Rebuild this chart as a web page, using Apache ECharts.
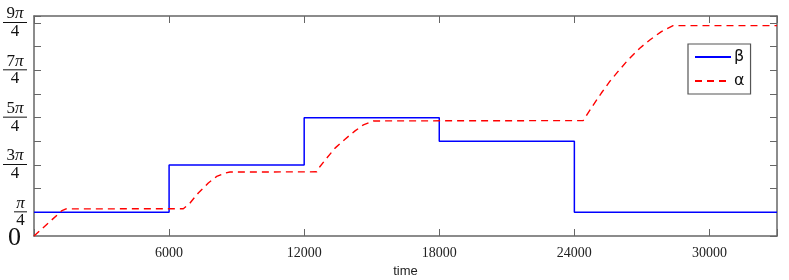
<!DOCTYPE html>
<html>
<head>
<meta charset="utf-8">
<script src="https://cdn.jsdelivr.net/npm/echarts@6/dist/echarts.min.js"></script>
<style>
html,body{margin:0;padding:0;background:#fff;}
#chart{width:789px;height:280px;}
</style>
</head>
<body>
<div id="chart"></div>
<script>
// ---- data ----
var betaTimes  = [0, 6000, 12000, 18000, 24000, 33000];
var betaValues = [0.7854, 2.3562, 3.9270, 3.1416, 0.7854, 0.7854];

var alphaTimes  = [0, 1244, 1421, 6632, 6930, 7298, 7742, 8116, 8484, 8706,
                   12558, 12704, 13002, 13370, 13815, 14259, 14628, 15072,
                   24390, 24831, 25200, 25573, 25942, 26386, 26905, 27350, 27865, 28385, 33000];
var alphaValues = [0, 0.843, 0.899, 0.905, 1.097, 1.428, 1.759, 1.977, 2.089, 2.122,
                   2.13, 2.307, 2.585, 2.916, 3.213, 3.487, 3.686, 3.818,
                   3.83, 4.337, 4.744, 5.130, 5.461, 5.844, 6.231, 6.505, 6.783, 6.981, 6.98];

var seriesNames = ['β', 'α'];
var xTickLabels = [6000, 12000, 18000, 24000, 30000];

function zip(a, b) { return a.map(function (v, i) { return [v, b[i]]; }); }

var Q = Math.PI / 4;
var axisColor = '#666';

var chart = echarts.init(document.getElementById('chart'), null, {renderer: 'canvas'});
chart.setOption({
  animation: false,
  backgroundColor: '#fff',
  grid: {left: 34, right: 12, top: 16, bottom: 44, containLabel: false, outerBoundsMode: 'none'},
  legend: {
    orient: 'vertical',
    left: 688, top: 44,
    padding: [5, 6, 5, 6],
    itemWidth: 36, itemHeight: 14, itemGap: 8,
    backgroundColor: '#fff',
    borderColor: '#555', borderWidth: 1.2, borderRadius: 0,
    itemStyle: {opacity: 0},
    textStyle: {fontFamily: 'DejaVu Sans', fontSize: 16, color: '#111', padding: [0,0,0,-2]},
    data: seriesNames
  },
  xAxis: [{
    type: 'value', min: 0, max: 33000, interval: 6000,
    position: 'bottom',
    name: 'time', nameLocation: 'middle', nameGap: 25,
    nameTextStyle: {fontFamily: 'Liberation Sans', fontSize: 13, color: '#222'},
    axisLine: {show: true, onZero: false, lineStyle: {color: axisColor, width: 1.5}},
    axisTick: {show: true, inside: true, length: 7, lineStyle: {color: axisColor}},
    splitLine: {show: false},
    axisLabel: {
      margin: 10, fontFamily: 'Liberation Serif', fontSize: 14, color: '#222', hideOverlap: false,
      formatter: function (v) { return xTickLabels.indexOf(v) >= 0 ? String(v) : ''; }
    }
  }, {
    type: 'value', min: 0, max: 33000, interval: 6000,
    position: 'top',
    axisLine: {show: true, onZero: false, lineStyle: {color: axisColor, width: 1.5}},
    axisTick: {show: true, inside: true, length: 7, lineStyle: {color: axisColor}},
    splitLine: {show: false},
    axisLabel: {show: false}
  }],
  yAxis: [{
    type: 'value', min: 0, max: 7.3, interval: Q,
    position: 'left',
    axisLine: {show: true, onZero: false, lineStyle: {color: axisColor, width: 1.5}},
    axisTick: {show: true, inside: true, length: 7, lineStyle: {color: axisColor}},
    splitLine: {show: false},
    axisLabel: {
      margin: 7, color: '#111', showMinLabel: false, showMaxLabel: true, hideOverlap: false,
      formatter: function (v) {
        var k = Math.round(v / Q);
        if (Math.abs(v - k * Q) > 1e-6) return '';
        if (k % 2 === 0) return '';
        if (k === 1) return '{p|π}\n{bs| }\n{d|4}';
        return '{n|' + k + '}{p|π}\n{bl| }\n{d|4}';
      },
      rich: {
        n: {fontFamily: 'Liberation Serif', fontSize: 17, lineHeight: 13, align: 'center', color: '#111'},
        p: {fontFamily: 'Liberation Serif', fontStyle: 'italic', fontSize: 17, lineHeight: 13, align: 'center', color: '#111'},
        d: {fontFamily: 'Liberation Serif', fontSize: 17, lineHeight: 14, align: 'center', color: '#111'},
        bs: {width: 13, height: 1, lineHeight: 4, fontSize: 1, backgroundColor: '#111', align: 'center'},
        bl: {width: 24, height: 1, lineHeight: 4, fontSize: 1, backgroundColor: '#111', align: 'center'}
      }
    }
  }, {
    type: 'value', min: 0, max: 7.3, interval: Q,
    position: 'right',
    axisLine: {show: true, onZero: false, lineStyle: {color: axisColor, width: 1.5}},
    axisTick: {show: true, inside: true, length: 7, lineStyle: {color: axisColor}},
    splitLine: {show: false},
    axisLabel: {show: false}
  }, {
    type: 'value', min: 0, max: 7.3, interval: Q,
    position: 'left', offset: 0,
    axisLine: {show: false}, axisTick: {show: false}, splitLine: {show: false},
    axisLabel: {
      margin: 13, showMinLabel: true, hideOverlap: false,
      formatter: function (v) { return v === 0 ? '{z|0}' : ''; },
      rich: {
        z: {fontFamily: 'Liberation Serif', fontSize: 26, lineHeight: 26, padding: [5, 0, 0, 0], color: '#111'}
      }
    }
  }],
  series: [{
    name: seriesNames[0], type: 'line', step: 'end',
    xAxisIndex: 0, yAxisIndex: 0,
    symbol: 'none', color: '#0000ff',
    lineStyle: {color: '#0000ff', width: 1.5},
    data: zip(betaTimes, betaValues)
  }, {
    name: seriesNames[1], type: 'line',
    xAxisIndex: 0, yAxisIndex: 0,
    symbol: 'none', color: '#ff0000',
    lineStyle: {color: '#ff0000', width: 1.4, type: [7, 5]},
    data: zip(alphaTimes, alphaValues)
  }]
});
</script>
</body>
</html>
